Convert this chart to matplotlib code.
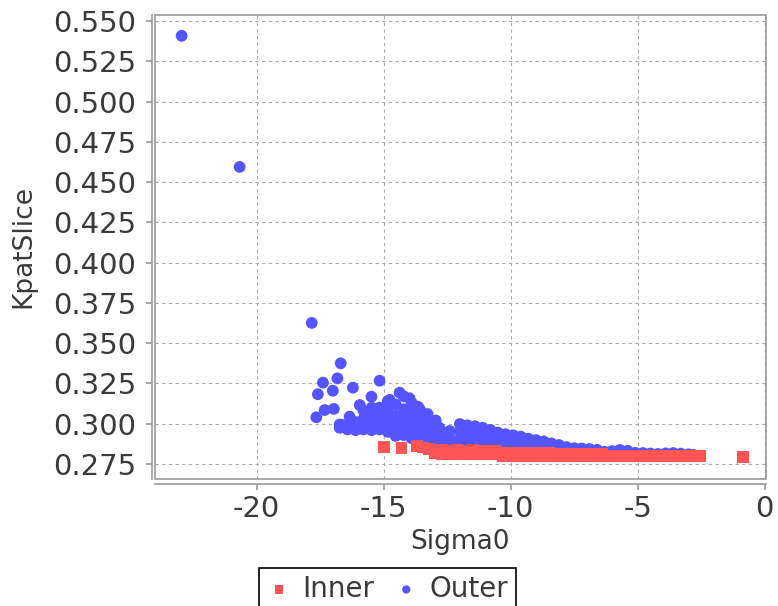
import matplotlib
matplotlib.use('Agg')
import matplotlib.pyplot as plt
from matplotlib.patches import Rectangle

# Outer series (blue circles)
outer_x = [-22.95, -20.67, -17.83, -16.69, -17.39, -16.82, -17.00, -17.59, -16.21, -15.16,
           -17.32, -16.96, -17.65, -15.48, -15.94, -14.37, -13.98, -14.76, -13.65, -16.60, -16.34,
           -16.73, -16.73,
           -16.42, -16.42,
           -16.10, -16.10, -16.10,
           -15.79, -15.79, -15.79, -15.79,
           -15.47, -15.47, -15.47, -15.47,
           -15.16, -15.16, -15.16, -15.16,
           -14.84, -14.84, -14.84, -14.84, -14.84,
           -14.53, -14.53, -14.53, -14.53, -14.53,
           -14.21, -14.21, -14.21, -14.21, -14.21,
           -13.90, -13.90, -13.90, -13.90, -13.90,
           -13.58, -13.58, -13.58, -13.58, -13.58,
           -13.27, -13.27, -13.27, -13.27, -13.27,
           -12.95, -12.95, -12.95, -12.95,
           -12.80, -12.80, -12.80,
           -12.40, -12.40, -12.40,
           -12.00, -12.00, -12.00,
           -11.70, -11.70, -11.70,
           -11.40, -11.40, -11.40,
           -11.10, -11.10, -11.10,
           -10.80, -10.80, -10.80,
           -10.50, -10.50, -10.50,
           -10.20, -10.20, -10.20,
           -9.90, -9.90, -9.60, -9.60, -9.30, -9.30, -9.00, -9.00,
           -8.70, -8.70, -8.40, -8.40, -8.10, -8.10, -7.80, -7.80,
           -7.50, -7.50, -7.20, -7.20, -6.90, -6.90, -6.60, -6.60,
           -6.30, -6.00, -5.70, -5.40, -5.10, -4.80, -4.50, -4.20,
           -3.90, -3.60, -3.30, -3.00, -2.80]
outer_y = [0.5408, 0.4594, 0.3626, 0.3375, 0.3255, 0.3282, 0.3205, 0.3183, 0.3224, 0.3267,
           0.3085, 0.3092, 0.3040, 0.3168, 0.3116, 0.3193, 0.3158, 0.3148, 0.3106, 0.2992, 0.3044,
           0.2995, 0.2975,
           0.2990, 0.2965,
           0.3010, 0.2975, 0.2960,
           0.3080, 0.3030, 0.2990, 0.2965,
           0.3100, 0.3040, 0.2990, 0.2960,
           0.3100, 0.3060, 0.3000, 0.2965,
           0.3140, 0.3080, 0.3030, 0.2975, 0.2950,
           0.3120, 0.3050, 0.3000, 0.2955, 0.2925,
           0.3170, 0.3090, 0.3030, 0.2980, 0.2930,
           0.3130, 0.3070, 0.3010, 0.2960, 0.2910,
           0.3090, 0.3040, 0.2990, 0.2940, 0.2900,
           0.3060, 0.3010, 0.2960, 0.2910, 0.2880,
           0.3020, 0.2980, 0.2930, 0.2890,
           0.2974, 0.2930, 0.2890,
           0.2955, 0.2910, 0.2875,
           0.2998, 0.2950, 0.2900,
           0.2990, 0.2940, 0.2890,
           0.2984, 0.2935, 0.2885,
           0.2975, 0.2925, 0.2880,
           0.2962, 0.2915, 0.2875,
           0.2945, 0.2900, 0.2865,
           0.2935, 0.2890, 0.2860,
           0.2928, 0.2885, 0.2920, 0.2880, 0.2907, 0.2870, 0.2898, 0.2865,
           0.2890, 0.2860, 0.2878, 0.2850, 0.2868, 0.2845, 0.2855, 0.2835,
           0.2848, 0.2830, 0.2846, 0.2828, 0.2843, 0.2825, 0.2838, 0.2822,
           0.2826, 0.2830, 0.2837, 0.2832, 0.2820, 0.2818, 0.2815, 0.2812,
           0.2816, 0.2818, 0.2814, 0.2810, 0.2806]

# Inner series (red squares)
inner_x = [-15.00, -14.30, -13.70, -13.45, -13.20, -12.95,
           -12.70, -12.40, -12.10, -11.80, -11.50, -11.20, -10.90, -10.60,
           -13.00, -12.70, -12.40, -12.10, -11.80, -11.50, -11.20, -10.90, -10.60,
           -10.30, -10.00, -9.70, -9.40, -9.10, -8.80, -8.50,
           -10.30, -10.00, -9.70, -9.40, -9.10, -8.80, -8.50,
           -8.20, -7.90, -7.60, -7.30, -7.00, -6.70, -6.40,
           -8.20, -7.90, -7.60, -7.30, -7.00, -6.70, -6.40,
           -6.10, -5.80, -5.50, -5.20, -4.90, -4.60, -4.30, -4.00, -3.70, -3.40, -3.10, -2.80, -2.55,
           -0.87]
inner_y = [0.2855, 0.2850, 0.2862, 0.2852, 0.2845, 0.2840,
           0.2836, 0.2834, 0.2836, 0.2833, 0.2835, 0.2832, 0.2834, 0.2831,
           0.2815, 0.2813, 0.2812, 0.2814, 0.2812, 0.2813, 0.2812, 0.2813, 0.2812,
           0.2818, 0.2818, 0.2818, 0.2818, 0.2818, 0.2818, 0.2818,
           0.2800, 0.2800, 0.2800, 0.2800, 0.2800, 0.2800, 0.2800,
           0.2812, 0.2812, 0.2812, 0.2812, 0.2812, 0.2812, 0.2812,
           0.2800, 0.2800, 0.2800, 0.2800, 0.2800, 0.2800, 0.2800,
           0.2802, 0.2802, 0.2802, 0.2802, 0.2802, 0.2802, 0.2802, 0.2802, 0.2802, 0.2802, 0.2802, 0.2802, 0.2802,
           0.2793]

x_ticks = [-20, -15, -10, -5, 0]
y_ticks = [0.275, 0.300, 0.325, 0.350, 0.375, 0.400, 0.425, 0.450, 0.475, 0.500, 0.525, 0.550]

rojo = '#ff5555'
azul = '#5555ff'
gris = '#999999'
texto = '#3a3a3a'

fig = plt.figure(figsize=(7.78, 6.06), dpi=100)
ax = fig.add_axes([155/778, 127/606, 611/778, 464/606])

ax.scatter(outer_x, outer_y, s=72, marker='o', color=azul, edgecolors='none', label='Outer', zorder=3)
ax.scatter(inner_x, inner_y, s=72, marker='s', color=rojo, edgecolors='none', label='Inner', zorder=4)

ax.set_xlim(-24.0, 0.05)
ax.set_ylim(0.2657, 0.5537)
ax.set_xticks(x_ticks)
ax.set_yticks(y_ticks)
ax.set_xticklabels([str(v) for v in x_ticks])
ax.set_yticklabels(['%.3f' % v for v in y_ticks])

# Format plot
ax.grid(True, color='#aaaaaa', linestyle=(0, (3, 3)), linewidth=0.8)
ax.set_axisbelow(True)
for s in ['top', 'right']:
    ax.spines[s].set_visible(False)
ax.spines['left'].set_position(('outward', 2.5))
ax.spines['bottom'].set_position(('outward', 3.8))
for s in ['left', 'bottom']:
    ax.spines[s].set_color(gris)
    ax.spines[s].set_linewidth(1.2)
ax.add_patch(Rectangle((0, 0), 1, 1, transform=ax.transAxes, fill=False,
                       edgecolor=gris, linewidth=1.2, clip_on=False, zorder=5))
ax.tick_params(axis='both', colors=gris, labelcolor=texto, labelsize=21, length=4, width=1.2)
ax.tick_params(axis='y', pad=7)
ax.tick_params(axis='x', pad=4)

ax.set_xlabel('Sigma0', fontsize=19, color=texto, labelpad=4)
ax.set_ylabel('KpatSlice', fontsize=19, color=texto, labelpad=12)

h, l = ax.get_legend_handles_labels()
leg = fig.legend([h[1], h[0]], [l[1], l[0]], loc='upper center', bbox_to_anchor=(0.498, 0.063),
                 borderaxespad=0, ncol=2, fontsize=20, frameon=True, fancybox=False, framealpha=1,
                 edgecolor='black', handletextpad=0.4, columnspacing=0.7,
                 borderpad=0.25, markerscale=0.7, handlelength=0.9)
leg.get_frame().set_linewidth(1.2)
for t in leg.get_texts():
    t.set_color(texto)

fig.savefig('out.png', dpi=100)
